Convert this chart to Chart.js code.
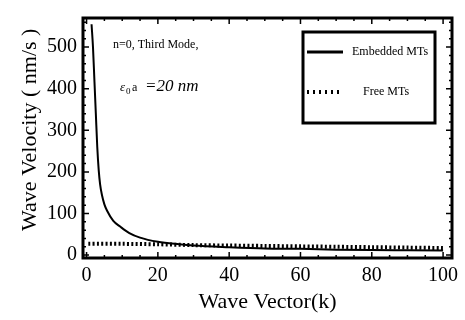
<!DOCTYPE html>
<html>
<head>
<meta charset="utf-8">
<script src="https://cdn.jsdelivr.net/npm/chart.js@4"></script>
<style>
  html, body { margin: 0; padding: 0; background: #fff; }
  #wrap { width: 465px; height: 320px; }
</style>
</head>
<body>
<div id="wrap"><canvas id="chart" width="465" height="320"></canvas></div>
<script>
// values
const embeddedK = [1.4, 1.8, 2.2, 2.6, 3.0, 3.4, 3.8, 4.3, 5.0, 5.8, 7.5, 9.5, 12, 15, 20, 26, 30, 40, 50, 60, 70, 80, 90, 100];
const embeddedV = [555, 500, 420, 340, 260, 205, 170, 145, 122, 106, 82, 68, 53, 42, 32, 26, 23, 19, 16, 15, 13, 12, 11.5, 11];
const freeK = [0.5, 10, 20, 30, 40, 50, 60, 70, 80, 90, 100];
const freeV = [27, 27, 26, 24, 23, 22, 21, 20, 19, 18, 17];
const xTicks = [0, 20, 40, 60, 80, 100];
const yTicks = [0, 100, 200, 300, 400, 500];

const serif = '"Liberation Serif", "DejaVu Serif", serif';

function pts(xs, ys) {
    return xs.map((x, i) => ({ x: x, y: ys[i] }));
}

// black frame with inward ticks on all four sides
const framePlugin = {
    id: 'frame',
    afterDatasetsDraw(chart) {
        const ctx = chart.ctx;
        const a = chart.chartArea;
        const xs = chart.scales.x, ys = chart.scales.y;
        ctx.save();
        ctx.strokeStyle = '#000';
        ctx.lineWidth = 1.5;
        for (let v = 0; v <= 100; v += 5) {
            const px = xs.getPixelForValue(v);
            const len = v % 20 === 0 ? 6 : 3;
            ctx.beginPath();
            ctx.moveTo(px, a.bottom); ctx.lineTo(px, a.bottom - len);
            ctx.moveTo(px, a.top); ctx.lineTo(px, a.top + len);
            ctx.stroke();
        }
        for (let v = 0; v <= 560; v += 20) {
            const py = ys.getPixelForValue(v);
            const len = v % 100 === 0 ? 6 : 3;
            ctx.beginPath();
            ctx.moveTo(a.left, py); ctx.lineTo(a.left + len, py);
            ctx.moveTo(a.right, py); ctx.lineTo(a.right - len, py);
            ctx.stroke();
        }
        ctx.lineWidth = 3;
        ctx.strokeRect(a.left, a.top, a.right - a.left, a.bottom - a.top);
        ctx.restore();
    }
};

// text notes and the boxed legend
const notesPlugin = {
    id: 'notes',
    afterDraw(chart) {
        const ctx = chart.ctx;
        const ds = chart.data.datasets;
        ctx.save();
        ctx.fillStyle = '#000';
        ctx.textBaseline = 'alphabetic';
        ctx.font = '12px ' + serif;
        ctx.fillText('n=0, Third Mode,', 113, 48);

        ctx.font = 'italic 13px ' + serif;
        ctx.fillText('\u03b5', 120, 91);
        ctx.font = '9px ' + serif;
        ctx.fillText('0', 126, 94);
        ctx.font = '12px ' + serif;
        ctx.fillText('a', 132, 91);
        ctx.font = 'italic 17px ' + serif;
        ctx.fillText('=20 nm', 145, 91);

        // legend box
        ctx.lineWidth = 3;
        ctx.strokeStyle = '#000';
        ctx.strokeRect(303, 32, 132, 91);
        ctx.textBaseline = 'middle';
        ctx.font = '12px ' + serif;

        ctx.setLineDash([]);
        ctx.lineWidth = ds[0].borderWidth + 1;
        ctx.beginPath(); ctx.moveTo(307, 52); ctx.lineTo(343, 52); ctx.stroke();
        ctx.fillText(ds[0].label, 352, 52);

        ctx.setLineDash([2, 4]);
        ctx.lineWidth = ds[1].borderWidth;
        ctx.beginPath(); ctx.moveTo(307, 92); ctx.lineTo(343, 92); ctx.stroke();
        ctx.setLineDash([]);
        ctx.fillText(ds[1].label, 363, 92);
        ctx.restore();
    }
};

new Chart(document.getElementById('chart'), {
    type: 'line',
    data: {
        datasets: [{
            label: 'Embedded MTs',
            data: pts(embeddedK, embeddedV),
            borderColor: '#000',
            borderWidth: 2,
            pointRadius: 0,
            cubicInterpolationMode: 'monotone',
            fill: false
        }, {
            label: 'Free MTs',
            data: pts(freeK, freeV),
            borderColor: '#000',
            borderWidth: 4,
            borderDash: [2, 2.3],
            borderCapStyle: 'butt',
            pointRadius: 0,
            tension: 0.3,
            fill: false
        }]
    },
    options: {
        responsive: false,
        animation: false,
        layout: { padding: { top: 13, right: 13, left: 0, bottom: 0 } },
        plugins: {
            legend: { display: false },
            tooltip: { enabled: false }
        },
        scales: {
            x: {
                type: 'linear',
                min: -1,
                max: 102.5,
                grid: { display: false, drawTicks: false },
                border: { display: false },
                afterBuildTicks: s => { s.ticks = xTicks.map(v => ({ value: v })); },
                afterFit: s => { s.height = 62; },
                ticks: { color: '#000', padding: 6, maxRotation: 0, font: { family: serif, size: 20 } },
                title: {
                    display: true,
                    text: 'Wave Vector(k)',
                    color: '#000',
                    padding: { top: 0, bottom: 5 },
                    font: { family: serif, size: 22 }
                }
            },
            y: {
                type: 'linear',
                min: -7,
                max: 570,
                grid: { display: false, drawTicks: false },
                border: { display: false },
                afterBuildTicks: s => { s.ticks = yTicks.map(v => ({ value: v })); },
                afterFit: s => { s.width = 83; },
                ticks: { color: '#000', padding: 6, font: { family: serif, size: 20 } },
                title: {
                    display: true,
                    text: '   Wave Velocity ( nm/s )',
                    color: '#000',
                    padding: { top: 17, bottom: 0 },
                    font: { family: serif, size: 22 }
                }
            }
        }
    },
    plugins: [framePlugin, notesPlugin]
});
</script>
</body>
</html>
